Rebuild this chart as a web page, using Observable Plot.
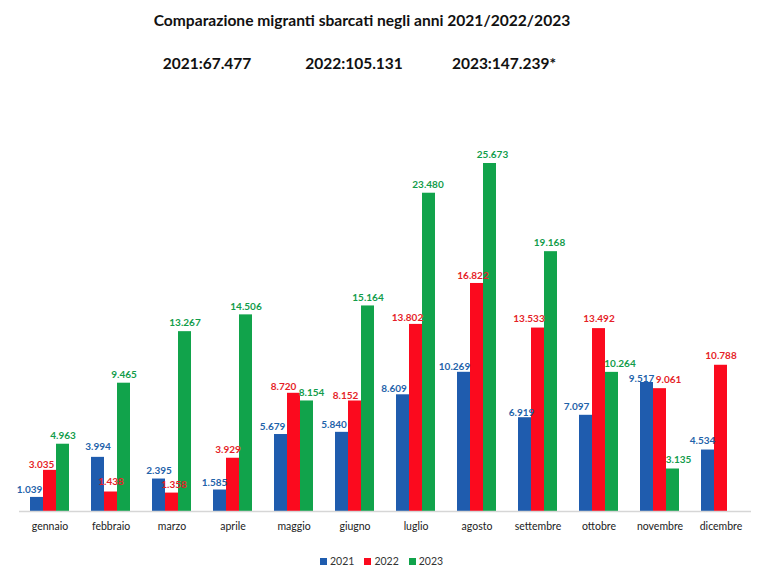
<!DOCTYPE html>
<html>
<head>
<meta charset="utf-8">
<script src="https://cdn.jsdelivr.net/npm/d3@7"></script>
<script src="https://cdn.jsdelivr.net/npm/@observablehq/plot@0.6"></script>
<style>
  body { margin: 0; background: #fff; font-family: Lato, "Open Sans", sans-serif; }
  #wrap { position: relative; width: 767px; height: 573px; overflow: hidden; background: #fff; }
  .t { position: absolute; transform: translate(-50%, -50%); white-space: nowrap; font-weight: bold; color: #111; }
  #title { font-size: 15.6px; }
  .tot { font-size: 15.5px; }
  #chart { position: absolute; left: 0; top: 90px; }
  #legend { position: absolute; left: 320px; top: 555px; display: flex; font-size: 10.5px; color: #333; }
  .item { display: flex; align-items: center; margin-right: 10px; }
  .sw { width: 7px; height: 7px; margin-right: 3px; }
</style>
</head>
<body>
<div id="wrap">
  <div id="title" class="t" style="left:362px; top:20px;"></div>
  <div id="totals"></div>
  <div id="chart"></div>
  <div id="legend"></div>
</div>
<script>
// Monthly landings by year (2023 stops at November)
const months = ["gennaio", "febbraio", "marzo", "aprile", "maggio", "giugno",
                "luglio", "agosto", "settembre", "ottobre", "novembre", "dicembre"];
const years = ["2021", "2022", "2023"];
const values2021 = [1039, 3994, 2395, 1585, 5679, 5840, 8609, 10269, 6919, 7097, 9517, 4534];
const values2022 = [3035, 1438, 1358, 3929, 8720, 8152, 13802, 16822, 13533, 13492, 9061, 10788];
const values2023 = [4963, 9465, 13267, 14506, 8154, 15164, 23480, 25673, 19168, 10264, 3135, null];
const totalLabels = ["2021:67.477", "2022:105.131", "2023:147.239*"];
const titleText = "Comparazione migranti sbarcati negli anni 2021/2022/2023";

const barColors = {"2021": "#1f5cae", "2022": "#fb0a1e", "2023": "#11a34b"};
const labelColors = {"2021": "#1f63aa", "2022": "#e51e28", "2023": "#129c4b"};

// Hand-placed value labels: [horizontal shift, distance above the bar top]
const labelNudge = {
  "gennaio|2021": [-7.5, 8], "gennaio|2022": [-8.5, 6],
  "febbraio|2021": [0, 10.5], "febbraio|2022": [0, 10],
  "marzo|2022": [2, 8],
  "aprile|2021": [-5.5, 7], "aprile|2022": [-5, 8],
  "maggio|2021": [-8.5, 7.5], "maggio|2022": [-10.5, 6.5], "maggio|2023": [4.5, 8.5],
  "giugno|2021": [-8, 7.5], "giugno|2022": [-9.5, 5],
  "luglio|2021": [-9, 6.5], "luglio|2022": [-8.5, 6.5], "luglio|2023": [-1, 8.5],
  "agosto|2021": [-9.5, 5.5], "agosto|2022": [-4, 7.5], "agosto|2023": [2.5, 8.5],
  "settembre|2021": [-3.5, 5], "settembre|2022": [-9, 9.5], "settembre|2023": [-1.5, 8.5],
  "ottobre|2021": [-9.5, 8.5], "ottobre|2022": [0, 9.5], "ottobre|2023": [8, 9],
  "novembre|2021": [-5.5, 4], "novembre|2022": [8.5, 8.5], "novembre|2023": [5.5, 9],
  "dicembre|2021": [-5.5, 9.5], "dicembre|2022": [0, 9.5]
};

const series = {"2021": values2021, "2022": values2022, "2023": values2023};
const rows = years.flatMap(year =>
  months.map((month, i) => ({month, year, value: series[year][i]}))
        .filter(d => d.value != null));

// Italian thousands separator
const fmt = v => v >= 1000 ? Math.floor(v / 1000) + "." + String(v % 1000).padStart(3, "0") : String(v);

document.getElementById("title").textContent = titleText;
const totalsX = [207, 354, 504];
document.getElementById("totals").innerHTML = totalLabels
  .map((s, i) => `<div class="t tot" style="left:${totalsX[i]}px; top:63px;">${s}</div>`).join("");

const marks = [];
for (const year of years) {
  const data = rows.filter(d => d.year === year);
  marks.push(Plot.barY(data, {fx: "month", x: "year", y: "value", fill: barColors[year]}));
}
marks.push(Plot.ruleY([0], {stroke: "#d6d6d6", strokeWidth: 1.5}));
for (const d of rows) {
  const [dx, gap] = labelNudge[`${d.month}|${d.year}`] ?? [0, 8.5];
  marks.push(Plot.text([d], {
    fx: "month", x: "year", y: "value", text: r => fmt(r.value),
    fill: labelColors[d.year], lineAnchor: "middle", dx, dy: -gap,
    fontWeight: "bold", fontSize: 10
  }));
}

const chart = Plot.plot({
  width: 767,
  height: 450,
  marginTop: 0,
  marginBottom: 29,
  marginLeft: 15,
  marginRight: 12,
  style: {fontFamily: "Lato, 'Open Sans', sans-serif", background: "transparent"},
  fx: {domain: months, padding: 0, label: null, axis: "bottom", tickSize: 0, tickPadding: 11},
  x: {domain: years, axis: null, paddingInner: 0, paddingOuter: 0.75},
  y: {domain: [0, 31058], axis: null},
  marks
});
chart.style.fontSize = "10.5px";
chart.querySelectorAll("[aria-label='fx-axis tick label'] text").forEach(t => t.setAttribute("fill", "#222"));
document.getElementById("chart").appendChild(chart);

document.getElementById("legend").innerHTML = years
  .map(y => `<div class="item"><div class="sw" style="background:${barColors[y]}"></div>${y}</div>`).join("");
</script>
</body>
</html>
